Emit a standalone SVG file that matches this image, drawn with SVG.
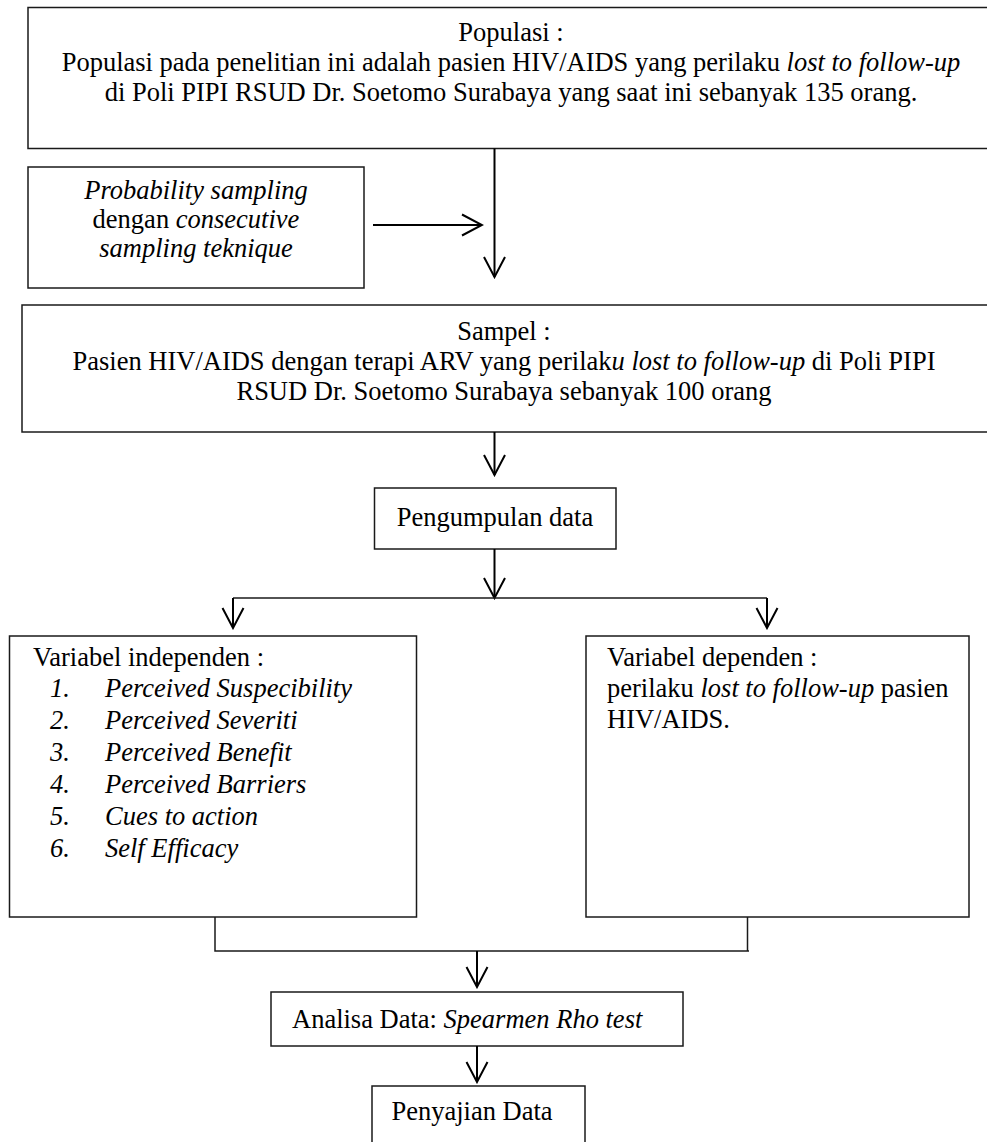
<svg xmlns="http://www.w3.org/2000/svg" width="987" height="1142" viewBox="0 0 987 1142">
<style>
  .box { fill: #ffffff; stroke: #1a1a1a; stroke-width: 1.5; }
  .t { font-family: "Liberation Serif", "Times New Roman", serif; font-size: 26.5px; fill: #000; }
  .c { text-anchor: middle; }
  .i { font-style: italic; }
  .ln { fill: none; stroke: #1a1a1a; stroke-width: 1.5; }
  .ar { fill: none; stroke: #000; stroke-width: 2; marker-end: url(#head); }
</style>
<defs>
  <marker id="head" viewBox="0 0 24 24" refX="22" refY="12" markerWidth="24" markerHeight="24" markerUnits="userSpaceOnUse" orient="auto">
    <path d="M2,1.5 L22,12 L2,22.5" fill="none" stroke="#000" stroke-width="2"/>
  </marker>
</defs>
<rect width="987" height="1142" fill="#ffffff"/>

<g id="populasi">
  <rect class="box" x="28" y="7.5" width="980" height="141"/>
  <text class="t c" x="511" y="41">Populasi :</text>
  <text class="t c" x="511" y="71">Populasi pada penelitian ini adalah pasien HIV/AIDS yang perilaku <tspan class="i">lost to follow-up</tspan></text>
  <text class="t c" x="511" y="101">di Poli PIPI RSUD Dr. Soetomo Surabaya yang saat ini sebanyak 135 orang.</text>
</g>

<g id="sampling">
  <rect class="box" x="28" y="167" width="336" height="121"/>
  <text class="t c i" x="196" y="199">Probability sampling</text>
  <text class="t c" x="196" y="228">dengan <tspan class="i">consecutive</tspan></text>
  <text class="t c i" x="196" y="257">sampling teknique</text>
</g>

<g id="sampel">
  <rect class="box" x="22" y="305" width="990" height="127"/>
  <text class="t c" x="504" y="340">Sampel :</text>
  <text class="t c" x="504" y="370">Pasien HIV/AIDS dengan terapi ARV yang perilak<tspan class="i">u lost to follow-up</tspan> di Poli PIPI</text>
  <text class="t c" x="504" y="400">RSUD Dr. Soetomo Surabaya sebanyak 100 orang</text>
</g>

<g id="pengumpulan">
  <rect class="box" x="374.5" y="488" width="241.5" height="61"/>
  <text class="t c" x="495" y="526">Pengumpulan data</text>
</g>

<g id="independen">
  <rect class="box" x="9.5" y="636" width="407" height="281"/>
  <text class="t" x="33" y="666">Variabel independen :</text>
  <text class="t i" x="50" y="697">1.</text><text class="t i" x="105" y="697">Perceived Suspecibility</text>
  <text class="t i" x="50" y="729">2.</text><text class="t i" x="105" y="729">Perceived Severiti</text>
  <text class="t i" x="50" y="761">3.</text><text class="t i" x="105" y="761">Perceived Benefit</text>
  <text class="t i" x="50" y="793">4.</text><text class="t i" x="105" y="793">Perceived Barriers</text>
  <text class="t i" x="50" y="825">5.</text><text class="t i" x="105" y="825">Cues to action</text>
  <text class="t i" x="50" y="857">6.</text><text class="t i" x="105" y="857">Self Efficacy</text>
</g>

<g id="dependen">
  <rect class="box" x="586" y="636" width="383" height="281"/>
  <text class="t" x="607" y="666">Variabel dependen :</text>
  <text class="t" x="607" y="697">perilaku <tspan class="i">lost to follow-up</tspan> pasien</text>
  <text class="t" x="607" y="728">HIV/AIDS.</text>
</g>

<g id="analisa">
  <rect class="box" x="271" y="992" width="412" height="54"/>
  <text class="t" x="292" y="1028">Analisa Data: <tspan class="i">Spearmen Rho test</tspan></text>
</g>

<g id="penyajian">
  <rect class="box" x="372" y="1086" width="213" height="80"/>
  <text class="t c" x="472" y="1120">Penyajian Data</text>
</g>

<g id="connectors">
  <line class="ar" x1="494.5" y1="148.5" x2="494.5" y2="277"/>
  <line class="ar" x1="373" y1="225" x2="482" y2="225"/>
  <line class="ar" x1="494.5" y1="432" x2="494.5" y2="475"/>
  <line class="ar" x1="494.5" y1="549" x2="494.5" y2="598"/>
  <line class="ln" x1="233" y1="598" x2="767" y2="598"/>
  <line class="ar" x1="233" y1="598" x2="233" y2="628"/>
  <line class="ar" x1="767" y1="598" x2="767" y2="628"/>
  <polyline class="ln" points="215,917 215,951 749,951"/>
  <line class="ln" x1="747.5" y1="917" x2="747.5" y2="951"/>
  <line class="ar" x1="477" y1="951" x2="477" y2="987"/>
  <line class="ar" x1="477" y1="1046" x2="477" y2="1082"/>
</g>
</svg>
